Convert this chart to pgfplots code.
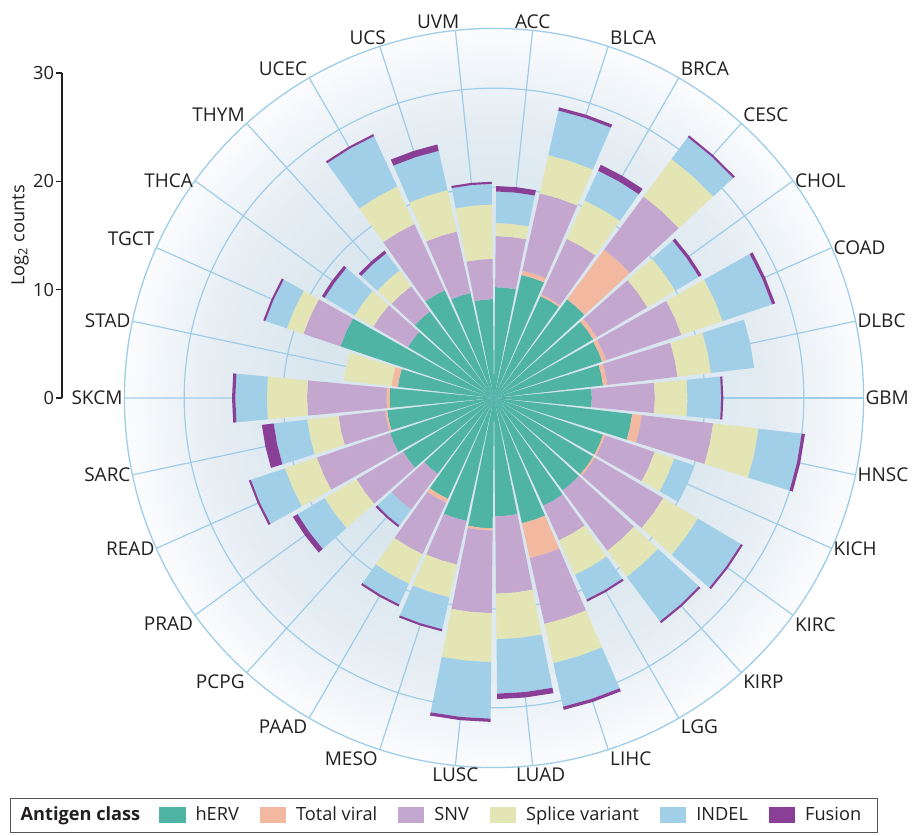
\documentclass[border=0pt]{standalone}
\usepackage{pgfplots}
\usepackage{pgfplotstable}
\pgfplotsset{compat=1.18}
\usepgfplotslibrary{polar}
\usepackage{fontspec}
\setmainfont{Open Sans}
\definecolor{cherv}{HTML}{50B4A5}
\definecolor{cviral}{HTML}{F3B8A0}
\definecolor{csnv}{HTML}{C3A7CE}
\definecolor{csplice}{HTML}{E3E5B5}
\definecolor{cindel}{HTML}{A2CFE8}
\definecolor{cfusion}{HTML}{8A3F96}
\definecolor{gridc}{HTML}{9FCDE8}
\definecolor{textc}{HTML}{231F20}
\definecolor{legc}{HTML}{555555}
\definecolor{bgA}{HTML}{D9E6EE}
\definecolor{bgB}{HTML}{E5EDF3}
\definecolor{bgC}{HTML}{FBFCFE}
\pgfdeclareradialshading{bgshade}{\pgfpoint{0bp}{0bp}}{color(0bp)=(bgA); color(12bp)=(bgA); color(19bp)=(bgB); color(25bp)=(bgC); color(50bp)=(bgC)}
\newcommand\lab{\fontsize{9.1pt}{11pt}\selectfont}
\newcommand\catlab{\fontsize{9.5pt}{11pt}\selectfont}
\tikzset{lbl/.style={font=\catlab, text=textc, inner sep=0.8pt}}

% segment values (Log2 counts) per cancer type, stacked outward
\pgfplotstableread{
name ang herv viral snv splice indel fusion
GBM 0 9.0 0 5.8 3.0 3.1 0.2
DLBC 12 10.1 0.4 6.5 3.1 4.0 0
COAD 24 10.5 0.4 7.3 4.0 4.8 0.3
CHOL 36 10.6 0.4 5.4 3.0 2.5 0.3
CESC 48 11.3 5.7 6.1 4.3 2.5 0.2
BRCA 60 10.3 0.2 5.6 3.9 3.0 0.6
BLCA 72 11.6 0.4 7.3 3.6 4.2 0.3
ACC 84 10.2 0 4.7 1.2 2.9 0.5
UVM 96 9.1 0 3.7 5.0 1.9 0.2
UCS 108 9.9 0 5.8 3.9 3.7 0.6
UCEC 120 10.9 0 6.7 3.8 5.1 0.2
THYM 132 9.9 0 2.9 1.8 2.0 0.3
THCA 144 9.2 0 3.7 2.0 3.2 0.3
TGCT 156 14.9 0 3.6 1.6 2.1 0.2
STAD 168 8.9 0.6 0 4.4 0 0
SKCM 180 9.6 0.3 7.3 3.7 2.9 0.3
SARC 192 9.9 0.2 4.3 2.9 3.1 1.1
READ 204 10.1 0 7.1 3.1 3.3 0.2
PRAD 216 9.7 0 5.0 3.4 2.9 0.5
PCPG 228 8.7 0 4.1 0 1.8 0.2
PAAD 240 10.2 0.4 5.2 3.0 2.1 0.2
MESO 252 11.6 0 4.1 3.1 3.0 0.2
LUSC 264 12.0 0.2 7.6 4.5 5.2 0.3
LUAD 276 10.9 0 7.1 4.2 5.0 0.5
LIHC 288 11.8 3.3 6.2 3.7 4.1 0.3
LGG 300 10.9 0 3.5 3.5 2.5 0.2
KIRP 312 10.6 0 6.9 3.0 5.1 0.2
KIRC 324 10.6 0.2 7.3 3.7 4.6 0.2
KICH 336 10.6 0.2 4.8 1.9 1.9 0
HNSC 348 12.8 0.9 6.6 4.2 4.0 0.3
}\bars

\newcommand\stackseg[2]{%
  \pgfplotstablegetelem{\i}{#1}\of\bars
  \let\segv\pgfplotsretval
  \pgfmathsetmacro\cB{\cA+\segv}%
  \ifdim\segv pt>0pt
    \pgfmathsetmacro\aL{\A-5.4}\pgfmathsetmacro\aR{\A+5.4}%
    \edef\doit{\noexpand\addplot[draw=none,fill=#2,forget plot] coordinates {(\aL,\cA) (\aL,\cB) (\A,\cB) (\aR,\cB) (\aR,\cA) (\A,\cA)} --cycle;}%
    \doit
  \fi
  \let\cA\cB
}

\begin{document}
\begin{tikzpicture}
\shade[shading=bgshade] (247pt,218.5pt) circle (184.8pt);
\begin{polaraxis}[
  at={(247pt,218.5pt)}, anchor=origin,
  scale only axis, width=369.6pt, height=369.6pt,
  xmin=0, xmax=360, ymin=0, ymax=34,
  xtick={0,12,...,348}, xticklabels={{}}, xticklabel style={opacity=0},
  ytick={19.4,28.5}, yticklabels={{},{}},
  xmajorgrids, ymajorgrids,
  major grid style={draw=gridc, line width=0.6pt},
  axis line style={draw=gridc, line width=0.65pt},
  major tick length=0pt,
  clip=false,
  legend columns=-1,
  legend style={at={(-0.15476,-0.08847)}, anchor=south west, draw=legc, line width=0.6pt,
    inner xsep=0pt, inner ysep=2.3pt, font=\lab, text=textc,
    /tikz/every even column/.append style={column sep=8.5pt},
    /tikz/every odd column/.append style={column sep=3pt}},
  legend cell align=left,
  legend entries={\textbf{Antigen class}\hspace*{-1pt},hERV,Total viral,SNV,Splice variant,INDEL,Fusion\hspace*{6pt}},
]
\pgfplotsforeachungrouped \i in {0,...,29}{%
  \pgfplotstablegetelem{\i}{ang}\of\bars \let\A\pgfplotsretval
  \def\cA{0}%
  \stackseg{herv}{cherv}%
  \stackseg{viral}{cviral}%
  \stackseg{snv}{csnv}%
  \stackseg{splice}{csplice}%
  \stackseg{indel}{cindel}%
  \stackseg{fusion}{cfusion}%
}
\addlegendimage{empty legend}
\addlegendimage{legend image code/.code={\fill[cherv] (0pt,-3.75pt) rectangle (12.5pt,3.75pt);}}
\addlegendimage{legend image code/.code={\fill[cviral] (0pt,-3.75pt) rectangle (12.5pt,3.75pt);}}
\addlegendimage{legend image code/.code={\fill[csnv] (0pt,-3.75pt) rectangle (12.5pt,3.75pt);}}
\addlegendimage{legend image code/.code={\fill[csplice] (0pt,-3.75pt) rectangle (12.5pt,3.75pt);}}
\addlegendimage{legend image code/.code={\fill[cindel] (0pt,-3.75pt) rectangle (12.5pt,3.75pt);}}
\addlegendimage{legend image code/.code={\fill[cfusion] (0pt,-3.75pt) rectangle (12.5pt,3.75pt);}}
\node[lbl,anchor=west] at (axis cs:0,34) {GBM};
\node[lbl,anchor=west] at (axis cs:12,34) {DLBC};
\node[lbl,anchor=west] at (axis cs:24,34) {COAD};
\node[lbl,anchor=west] at (axis cs:36,34) {CHOL};
\node[lbl,anchor=south west] at (axis cs:48,34) {CESC};
\node[lbl,anchor=south west] at (axis cs:60,34) {BRCA};
\node[lbl,anchor=south west] at (axis cs:72,34) {BLCA};
\node[lbl,anchor=south] at (axis cs:84,34) {ACC};
\node[lbl,anchor=south east,xshift=3pt] at (axis cs:96,34) {UVM};
\node[lbl,anchor=south east,xshift=4pt] at (axis cs:108,34) {UCS};
\node[lbl,anchor=south east] at (axis cs:120,34) {UCEC};
\node[lbl,anchor=south east] at (axis cs:132,34) {THYM};
\node[lbl,anchor=east] at (axis cs:144,34) {THCA};
\node[lbl,anchor=south east] at (axis cs:156,34) {TGCT};
\node[lbl,anchor=east] at (axis cs:168,34) {STAD};
\node[lbl,anchor=east] at (axis cs:180,34) {SKCM};
\node[lbl,anchor=east] at (axis cs:192,34) {SARC};
\node[lbl,anchor=east] at (axis cs:204,34) {READ};
\node[lbl,anchor=north east] at (axis cs:216,34) {PRAD};
\node[lbl,anchor=north east] at (axis cs:228,34) {PCPG};
\node[lbl,anchor=north east] at (axis cs:240,34) {PAAD};
\node[lbl,anchor=north east] at (axis cs:252,34) {MESO};
\node[lbl,anchor=north] at (axis cs:264,34) {LUSC};
\node[lbl,anchor=north,xshift=4pt] at (axis cs:276,34) {LUAD};
\node[lbl,anchor=north west] at (axis cs:288,34) {LIHC};
\node[lbl,anchor=north west] at (axis cs:300,34) {LGG};
\node[lbl,anchor=north west] at (axis cs:312,34) {KIRP};
\node[lbl,anchor=north west] at (axis cs:324,34) {KIRC};
\node[lbl,anchor=west] at (axis cs:336,34) {KICH};
\node[lbl,anchor=west] at (axis cs:348,34) {HNSC};
\end{polaraxis}
\begin{axis}[
  at={(31pt,218.5pt)}, anchor=south west,
  scale only axis, width=1pt, height=162.5pt,
  xmin=0, xmax=1, ymin=0, ymax=30,
  axis x line=none, axis y line*=left,
  ytick={0,10,20,30}, xtick=\empty,
  tick align=outside, major tick length=3pt,
  axis line style={draw=textc, line width=0.6pt},
  every tick/.style={draw=textc, line width=0.6pt},
  yticklabel style={font=\lab, text=textc, xshift=2.5pt, /pgf/number format/assume math mode=true},
  ylabel={Log\textsubscript{2} counts},
  ylabel style={font=\lab, text=textc, at={(axis description cs:0,0.5)}, anchor=center, yshift=21pt},
]
\end{axis}
\pgfresetboundingbox
\path[use as bounding box] (0pt,0pt) rectangle (460pt,417.5pt);
\end{tikzpicture}
\end{document}
